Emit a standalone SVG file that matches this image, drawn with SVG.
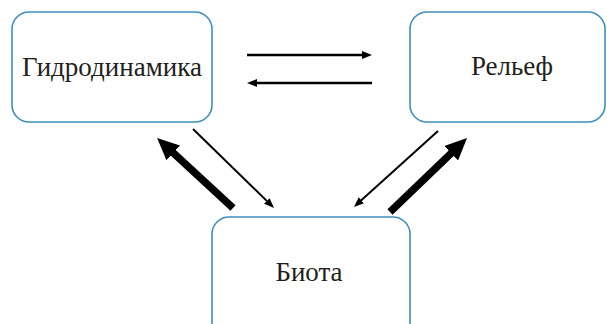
<svg xmlns="http://www.w3.org/2000/svg" width="607" height="324" viewBox="0 0 607 324">
<style>
.box{fill:#fff;stroke:#3f8fbd;stroke-width:1.6}
.lbl{font-family:"Liberation Serif","Times New Roman",serif;font-size:27px;fill:#231f20;text-anchor:middle}
.thin{stroke:#000;stroke-width:2;fill:none;marker-end:url(#ah)}
.horiz{stroke:#000;stroke-width:2.6;fill:none;marker-end:url(#ah)}
.thick{stroke:#000;stroke-width:7.5;fill:none;marker-end:url(#ahb)}
</style>
<defs>
<marker id="ah" markerUnits="userSpaceOnUse" markerWidth="10" markerHeight="8" refX="2" refY="4" orient="auto">
<path d="M0,0 L10,4 L0,8 z" fill="#000"/>
</marker>
<marker id="ahb" markerUnits="userSpaceOnUse" markerWidth="22" markerHeight="20" refX="2" refY="10" orient="auto">
<path d="M0,0 L22,10 L0,20 z" fill="#000"/>
</marker>
</defs>
<rect width="607" height="324" fill="#fff"/>
<g id="node-hydro">
<rect class="box" x="12" y="12" width="200" height="110" rx="17"/>
<text class="lbl" x="112" y="76">Гидродинамика</text>
</g>
<g id="node-relief">
<rect class="box" x="410" y="12" width="195" height="110" rx="17"/>
<text class="lbl" x="512" y="75">Рельеф</text>
</g>
<g id="node-biota">
<rect class="box" x="212" y="217" width="198" height="125" rx="17"/>
<text class="lbl" x="309" y="281">Биота</text>
</g>
<g id="connectors">
<line class="horiz" x1="247" y1="55" x2="364" y2="55"/>
<line class="horiz" x1="372" y1="83" x2="255" y2="83"/>
<line class="thin" x1="193" y1="129" x2="268.3" y2="202.4"/>
<line class="thin" x1="438" y1="131" x2="359.9" y2="201.6"/>
<line class="thick" x1="233" y1="208" x2="171.8" y2="151.6"/>
<line class="thick" x1="390" y1="212" x2="452.6" y2="151.9"/>
</g>
</svg>
